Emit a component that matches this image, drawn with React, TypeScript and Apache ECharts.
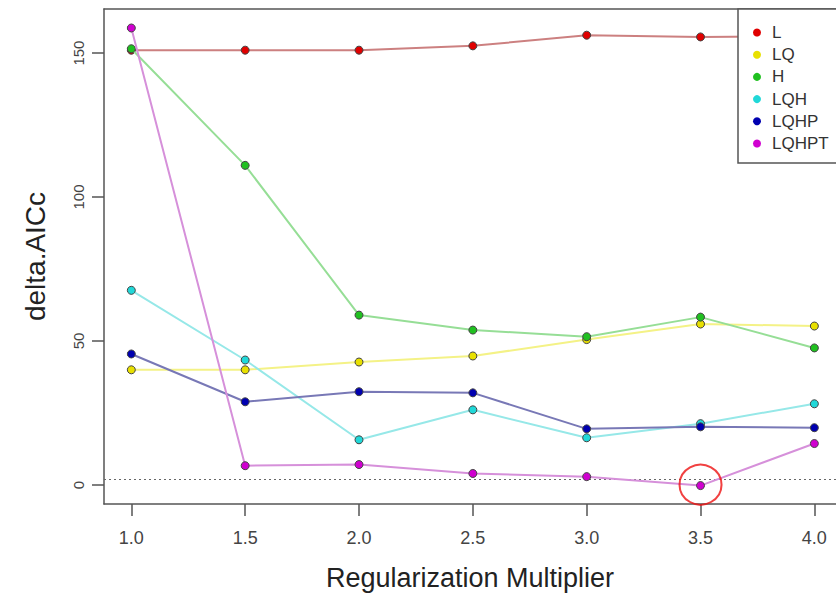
import React, { useEffect, useRef } from "react";
import * as echarts from "echarts";

const multipliers = [1.0, 1.5, 2.0, 2.5, 3.0, 3.5, 4.0];
const seriesNames = ["L", "LQ", "H", "LQH", "LQHP", "LQHPT"];
const valuesL = [151, 151, 151, 152.5, 156.2, 155.6, 155.8];
const valuesLQ = [40, 40, 42.7, 44.8, 50.5, 55.9, 55.2];
const valuesH = [151.5, 111, 59, 53.8, 51.5, 58.3, 47.6];
const valuesLQH = [67.6, 43.4, 15.7, 26.1, 16.4, 21.3, 28.2];
const valuesLQHP = [45.5, 28.9, 32.4, 32, 19.5, 20.2, 19.9];
const valuesLQHPT = [158.7, 6.7, 7.1, 4, 2.9, -0.2, 14.4];
const pointColors = ["#e00000", "#e8e000", "#20c020", "#20d8d8", "#0000b0", "#d000d0"];
const lineColors = ["#cc8080", "#f4f286", "#96de96", "#96e8e8", "#7878b6", "#d690da"];
const xTicks = [1.0, 1.5, 2.0, 2.5, 3.0, 3.5, 4.0];
const yTicks = [0, 50, 100, 150];
const thresholdValue = 2;
const highlighted = [3.5, 0.1];

const allValues = [valuesL, valuesLQ, valuesH, valuesLQH, valuesLQHP, valuesLQHPT];

export default function App() {
  const ref = useRef<HTMLDivElement>(null);
  useEffect(() => {
    if (!ref.current) return;
    const chart = echarts.init(ref.current, null, { renderer: "svg" });
    const font = "Liberation Sans, Arial, sans-serif";
    const boxLine = { show: true, onZero: false, lineStyle: { color: "#555", width: 1.5 } };
    const series: any[] = seriesNames.map((name, i) => ({
      name,
      type: "line",
      data: multipliers.map((m, j) => [m, allValues[i][j]]),
      symbol: "circle",
      symbolSize: 8,
      itemStyle: { color: pointColors[i], borderColor: "#444", borderWidth: 1 },
      lineStyle: { color: lineColors[i], width: 2 },
      z: 2 + i,
    }));
    series[0].markLine = {
      silent: true,
      symbol: ["none", "none"],
      label: { show: false },
      lineStyle: { type: [2, 3], color: "#666", width: 1 },
      data: [{ yAxis: thresholdValue }],
    };
    series.push({
      name: "highlight",
      type: "scatter",
      data: [highlighted],
      symbol: "circle",
      symbolSize: [42, 40],
      itemStyle: { color: "transparent", borderColor: "#ee1111", borderWidth: 2 },
      z: 20,
      silent: true,
    });
    chart.setOption({
      animation: false,
      backgroundColor: "#fff",
      grid: {
        left: 104,
        right: 0,
        top: 9,
        bottom: 94,
        show: false,
      },
      xAxis: [
        {
          type: "value",
          min: 0.88,
          max: 4.095,
          name: "Regularization Multiplier",
          nameLocation: "middle",
          nameGap: 60,
          nameTextStyle: { fontSize: 27, color: "#222", fontFamily: font },
          axisLine: boxLine,
          splitLine: { show: false },
          axisTick: { show: true, length: 12, inside: false, customValues: xTicks, lineStyle: { color: "#555", width: 1.5 } },
          axisLabel: {
            customValues: xTicks,
            formatter: (v: number) => v.toFixed(1),
            fontSize: 18,
            color: "#444",
            fontFamily: font,
            margin: 25,
          },
        },
        {
          type: "value",
          position: "top",
          min: 0.88,
          max: 4.095,
          axisLine: boxLine,
          axisTick: { show: false },
          axisLabel: { show: false },
          splitLine: { show: false },
        },
      ],
      yAxis: {
        type: "value",
        min: -6.6,
        max: 165.3,
        name: "delta.AICc",
        nameLocation: "middle",
        nameGap: 55,
        nameTextStyle: { fontSize: 28, color: "#222", fontFamily: font },
        axisLine: boxLine,
        splitLine: { show: false },
        axisTick: { show: true, length: 12, customValues: yTicks, lineStyle: { color: "#555", width: 1.5 } },
        axisLabel: {
          customValues: yTicks,
          rotate: 90,
          fontSize: 15,
          color: "#444",
          fontFamily: font,
          margin: 18,
        },
      },
      legend: {
        data: seriesNames,
        orient: "vertical",
        left: 738,
        top: 9,
        padding: [15, 30, 11, 15],
        itemGap: 5.2,
        itemWidth: 20,
        itemHeight: 8,
        icon: "circle",
        backgroundColor: "#fff",
        borderColor: "#555",
        borderWidth: 1.5,
        borderRadius: 0,
        itemStyle: { borderWidth: 0 },
        textStyle: { fontSize: 17, lineHeight: 17, color: "#333", fontFamily: font, padding: [0, 0, 0, 0] },
      },
      series,
    });
    return () => chart.dispose();
  }, []);
  return <div ref={ref} style={{ position: "fixed", left: 0, top: 0, width: 836, height: 598 }} />;
}
